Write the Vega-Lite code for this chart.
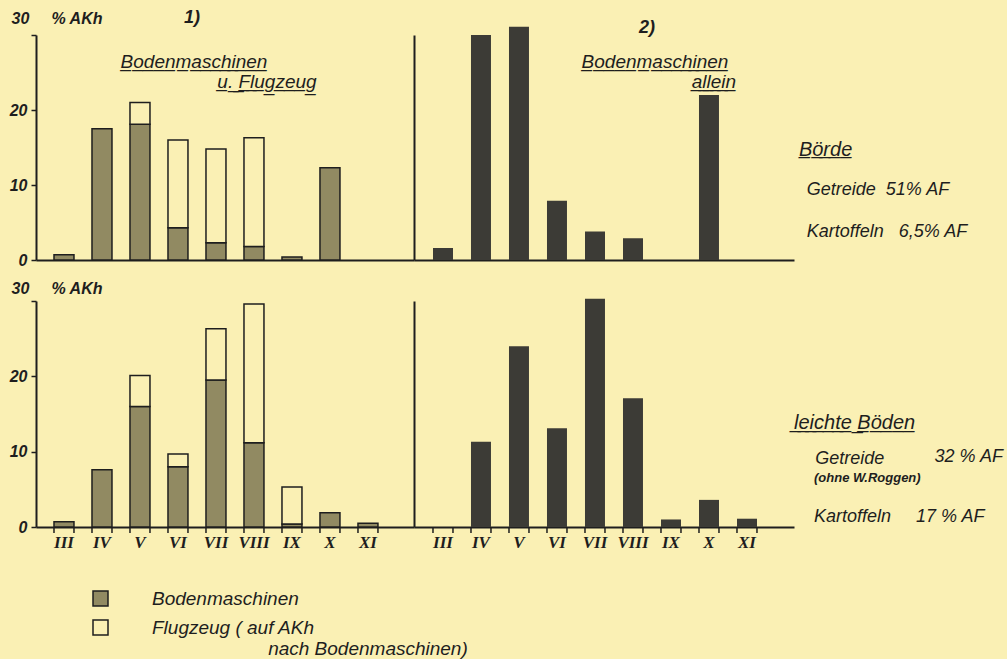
{
  "$schema": "https://vega.github.io/schema/vega-lite/v6.json",
  "background": "#faf0b4",
  "padding": {"left": 9, "top": 8, "right": 0, "bottom": 0},
  "config": {
    "view": {"stroke": null},
    "font": "Liberation Sans",
    "axis": {"domainColor": "#1e1e1e", "domainWidth": 2, "tickColor": "#1e1e1e", "labelColor": "#1e1e1e", "titleColor": "#1e1e1e", "grid": false},
    "text": {"font": "Liberation Sans", "fontStyle": "italic", "color": "#1e1e1e"}
  },
  "datasets": {
    "left": [
      {"region": "Börde", "month": "III", "part": "Bodenmaschinen", "value": 0.7},
      {"region": "Börde", "month": "IV", "part": "Bodenmaschinen", "value": 17.5},
      {"region": "Börde", "month": "V", "part": "Bodenmaschinen", "value": 18.1},
      {"region": "Börde", "month": "V", "part": "Flugzeug", "value": 2.9},
      {"region": "Börde", "month": "VI", "part": "Bodenmaschinen", "value": 4.3},
      {"region": "Börde", "month": "VI", "part": "Flugzeug", "value": 11.7},
      {"region": "Börde", "month": "VII", "part": "Bodenmaschinen", "value": 2.3},
      {"region": "Börde", "month": "VII", "part": "Flugzeug", "value": 12.5},
      {"region": "Börde", "month": "VIII", "part": "Bodenmaschinen", "value": 1.8},
      {"region": "Börde", "month": "VIII", "part": "Flugzeug", "value": 14.5},
      {"region": "Börde", "month": "IX", "part": "Bodenmaschinen", "value": 0.4},
      {"region": "Börde", "month": "X", "part": "Bodenmaschinen", "value": 12.3},
      {"region": "leichte Böden", "month": "III", "part": "Bodenmaschinen", "value": 0.7},
      {"region": "leichte Böden", "month": "IV", "part": "Bodenmaschinen", "value": 7.6},
      {"region": "leichte Böden", "month": "V", "part": "Bodenmaschinen", "value": 16.0},
      {"region": "leichte Böden", "month": "V", "part": "Flugzeug", "value": 4.1},
      {"region": "leichte Böden", "month": "VI", "part": "Bodenmaschinen", "value": 8.0},
      {"region": "leichte Böden", "month": "VI", "part": "Flugzeug", "value": 1.7},
      {"region": "leichte Böden", "month": "VII", "part": "Bodenmaschinen", "value": 19.5},
      {"region": "leichte Böden", "month": "VII", "part": "Flugzeug", "value": 6.8},
      {"region": "leichte Böden", "month": "VIII", "part": "Bodenmaschinen", "value": 11.2},
      {"region": "leichte Böden", "month": "VIII", "part": "Flugzeug", "value": 18.4},
      {"region": "leichte Böden", "month": "IX", "part": "Bodenmaschinen", "value": 0.4},
      {"region": "leichte Böden", "month": "IX", "part": "Flugzeug", "value": 4.9},
      {"region": "leichte Böden", "month": "X", "part": "Bodenmaschinen", "value": 1.9},
      {"region": "leichte Böden", "month": "XI", "part": "Bodenmaschinen", "value": 0.5}
    ],
    "right": [
      {"region": "Börde", "month": "III", "value": 1.6},
      {"region": "Börde", "month": "IV", "value": 30.0},
      {"region": "Börde", "month": "V", "value": 31.1},
      {"region": "Börde", "month": "VI", "value": 7.9},
      {"region": "Börde", "month": "VII", "value": 3.8},
      {"region": "Börde", "month": "VIII", "value": 2.9},
      {"region": "Börde", "month": "X", "value": 22.0},
      {"region": "leichte Böden", "month": "IV", "value": 11.3},
      {"region": "leichte Böden", "month": "V", "value": 24.0},
      {"region": "leichte Böden", "month": "VI", "value": 13.1},
      {"region": "leichte Böden", "month": "VII", "value": 30.3},
      {"region": "leichte Böden", "month": "VIII", "value": 17.1},
      {"region": "leichte Böden", "month": "IX", "value": 1.0},
      {"region": "leichte Böden", "month": "X", "value": 3.6},
      {"region": "leichte Böden", "month": "XI", "value": 1.1}
    ],
    "months": [
      {"month": "III"}, {"month": "IV"}, {"month": "V"}, {"month": "VI"}, {"month": "VII"}, {"month": "VIII"}, {"month": "IX"}, {"month": "X"}, {"month": "XI"}
    ],
    "one": [{}]
  },
  "resolve": {"scale": {"x": "independent", "y": "independent"}},
  "spacing": 12,
  "vconcat": [
    {
      "spacing": 0,
      "resolve": {"scale": {"x": "independent", "y": "independent"}},
      "hconcat": [
        {
          "width": 378, "height": 225,
          "layer": [
            {
              "data": {"name": "left"},
              "transform": [{"filter": "datum.region === 'Börde'"}],
              "mark": {"type": "bar", "stroke": "#1e1e1e", "strokeWidth": 1.5},
              "encoding": {
                "x": {"field": "month", "type": "nominal", "scale": {"domain": ["III", "IV", "V", "VI", "VII", "VIII", "IX", "X", "XI"], "paddingInner": 0.474, "paddingOuter": 0.711, "align": 0.333}, "axis": {"labels": false, "ticks": false, "title": null}},
                "y": {"field": "value", "type": "quantitative", "stack": "zero", "scale": {"domain": [0, 30], "nice": false},
                  "axis": {"values": [0, 5, 10, 15, 20, 25, 30], "labelExpr": "datum.value % 10 === 0 && datum.value < 30 ? datum.label : ''", "tickSize": 5, "tickWidth": 1.5, "labelFontSize": 16, "labelFontStyle": "italic", "labelFontWeight": "bold", "labelPadding": 4, "title": "30\u00a0\u00a0\u00a0\u00a0\u00a0% AKh", "titleAngle": 0, "titleAlign": "left", "titleBaseline": "middle", "titleX": -25, "titleY": -17, "titleFontSize": 16, "titleFontStyle": "italic", "titleFontWeight": "bold"}},
                "fill": {"field": "part", "type": "nominal", "scale": {"domain": ["Bodenmaschinen", "Flugzeug"], "range": ["#918a62", "#faf0b4"]},
                  "legend": {"orient": "none", "legendX": 55, "legendY": 554, "title": null, "symbolType": "square", "symbolSize": 225, "symbolStrokeColor": "#1e1e1e", "symbolStrokeWidth": 1.5, "labelFontSize": 19, "labelFontStyle": "italic", "labelColor": "#1e1e1e", "labelOffset": 42, "rowPadding": 8, "labelLimit": 0, "labelExpr": "datum.label === 'Flugzeug' ? ['Flugzeug ( auf AKh', '\u200b\u00a0\u00a0\u00a0\u00a0\u00a0\u00a0\u00a0\u00a0\u00a0\u00a0\u00a0\u00a0\u00a0\u00a0\u00a0\u00a0\u00a0\u00a0\u00a0\u00a0\u00a0\u00a0nach Bodenmaschinen)'] : datum.label"}},
                "order": {"field": "part", "sort": "ascending"}
              }
            },
            {"data": {"name": "one"}, "mark": {"type": "text", "fontSize": 18, "fontWeight": "bold", "dx": 14}, "encoding": {"x": {"datum": "VI"}, "y": {"datum": 32.3}, "text": {"value": "1)"}}},
            {"data": {"name": "one"}, "mark": {"type": "text", "fontSize": 19, "dx": 16}, "encoding": {"x": {"datum": "VI"}, "y": {"datum": 26.4}, "text": {"value": "B\u0332o\u0332d\u0332e\u0332n\u0332m\u0332a\u0332s\u0332c\u0332h\u0332i\u0332n\u0332e\u0332n\u0332"}}},
            {"data": {"name": "one"}, "mark": {"type": "text", "fontSize": 19, "dx": 13}, "encoding": {"x": {"datum": "VIII"}, "y": {"datum": 23.7}, "text": {"value": "u\u0332.\u0332 \u0332F\u0332l\u0332u\u0332g\u0332z\u0332e\u0332u\u0332g\u0332"}}}
          ]
        },
        {
          "width": 380, "height": 225,
          "layer": [
            {
              "data": {"name": "right"},
              "transform": [{"filter": "datum.region === 'Börde'"}],
              "mark": {"type": "bar", "fill": "#3c3b36"},
              "encoding": {
                "x": {"field": "month", "type": "nominal", "scale": {"domain": ["III", "IV", "V", "VI", "VII", "VIII", "IX", "X", "XI"], "paddingInner": 0.474, "paddingOuter": 0.737, "align": 0.339}, "axis": {"labels": false, "ticks": false, "title": null}},
                "y": {"field": "value", "type": "quantitative", "scale": {"domain": [0, 30], "nice": false}, "axis": {"labels": false, "ticks": false, "title": null}}
              }
            },
            {"data": {"name": "one"}, "mark": {"type": "text", "fontSize": 18, "fontWeight": "bold", "dx": 14}, "encoding": {"x": {"datum": "VIII"}, "y": {"datum": 31}, "text": {"value": "2)"}}},
            {"data": {"name": "one"}, "mark": {"type": "text", "fontSize": 19, "dx": 22}, "encoding": {"x": {"datum": "VIII"}, "y": {"datum": 26.4}, "text": {"value": "B\u0332o\u0332d\u0332e\u0332n\u0332m\u0332a\u0332s\u0332c\u0332h\u0332i\u0332n\u0332e\u0332n\u0332"}}},
            {"data": {"name": "one"}, "mark": {"type": "text", "fontSize": 19, "dx": 5}, "encoding": {"x": {"datum": "X"}, "y": {"datum": 23.7}, "text": {"value": "a\u0332l\u0332l\u0332e\u0332i\u0332n\u0332"}}}
          ]
        },
        {
          "width": 213, "height": 225,
          "data": {"name": "one"},
          "encoding": {
            "x": {"type": "quantitative", "scale": {"domain": [0, 100]}, "axis": null},
            "y": {"type": "quantitative", "scale": {"domain": [0, 100]}, "axis": null}
          },
          "layer": [
            {"mark": {"type": "text", "align": "left", "fontSize": 20}, "encoding": {"x": {"datum": 2.3}, "y": {"datum": 49}, "text": {"value": "B\u0332ö\u0332r\u0332d\u0332e\u0332"}}},
            {"mark": {"type": "text", "align": "left", "fontSize": 18}, "encoding": {"x": {"datum": 6}, "y": {"datum": 31}, "text": {"value": "Getreide\u00a0 51% AF"}}},
            {"mark": {"type": "text", "align": "left", "fontSize": 18}, "encoding": {"x": {"datum": 6}, "y": {"datum": 12.4}, "text": {"value": "Kartoffeln\u00a0\u00a0 6,5% AF"}}}
          ]
        }
      ]
    },
    {
      "spacing": 0,
      "resolve": {"scale": {"x": "independent", "y": "independent"}},
      "hconcat": [
        {
          "width": 378, "height": 226,
          "layer": [
            {
              "data": {"name": "left"},
              "transform": [{"filter": "datum.region === 'leichte Böden'"}],
              "mark": {"type": "bar", "stroke": "#1e1e1e", "strokeWidth": 1.5},
              "encoding": {
                "x": {"field": "month", "type": "nominal", "scale": {"domain": ["III", "IV", "V", "VI", "VII", "VIII", "IX", "X", "XI"], "paddingInner": 0.474, "paddingOuter": 0.711, "align": 0.333}, "axis": {"title": null, "ticks": false, "labelAngle": 0, "labelFont": "Liberation Serif", "labelFontSize": 17, "labelFontWeight": "bold", "labelFontStyle": "italic", "labelPadding": 7}},
                "y": {"field": "value", "type": "quantitative", "stack": "zero", "scale": {"domain": [0, 30], "nice": false},
                  "axis": {"values": [0, 5, 10, 15, 20, 25, 30], "labelExpr": "datum.value % 10 === 0 && datum.value < 30 ? datum.label : ''", "tickSize": 5, "tickWidth": 1.5, "labelFontSize": 16, "labelFontStyle": "italic", "labelFontWeight": "bold", "labelPadding": 4, "title": "30\u00a0\u00a0\u00a0\u00a0\u00a0% AKh", "titleAngle": 0, "titleAlign": "left", "titleBaseline": "middle", "titleX": -25, "titleY": -13, "titleFontSize": 16, "titleFontStyle": "italic", "titleFontWeight": "bold"}},
                "fill": {"field": "part", "type": "nominal"},
                "order": {"field": "part", "sort": "ascending"}
              }
            },
            {
              "data": {"name": "months"},
              "mark": {"type": "rule", "strokeWidth": 1.5, "color": "#1e1e1e"},
              "encoding": {"x": {"field": "month", "type": "nominal", "bandPosition": 0}, "y": {"datum": 0}, "y2": {"datum": -0.8}}
            },
            {
              "data": {"name": "months"},
              "mark": {"type": "rule", "strokeWidth": 1.5, "color": "#1e1e1e"},
              "encoding": {"x": {"field": "month", "type": "nominal", "bandPosition": 1}, "y": {"datum": 0}, "y2": {"datum": -0.8}}
            }
          ]
        },
        {
          "width": 380, "height": 226,
          "layer": [
            {
              "data": {"name": "right"},
              "transform": [{"filter": "datum.region === 'leichte Böden'"}],
              "mark": {"type": "bar", "fill": "#3c3b36"},
              "encoding": {
                "x": {"field": "month", "type": "nominal", "scale": {"domain": ["III", "IV", "V", "VI", "VII", "VIII", "IX", "X", "XI"], "paddingInner": 0.474, "paddingOuter": 0.737, "align": 0.339}, "axis": {"title": null, "ticks": false, "labelAngle": 0, "labelFont": "Liberation Serif", "labelFontSize": 17, "labelFontWeight": "bold", "labelFontStyle": "italic", "labelPadding": 7}},
                "y": {"field": "value", "type": "quantitative", "scale": {"domain": [0, 30], "nice": false}, "axis": {"labels": false, "ticks": false, "title": null}}
              }
            },
            {
              "data": {"name": "months"},
              "mark": {"type": "rule", "strokeWidth": 1.5, "color": "#1e1e1e"},
              "encoding": {"x": {"field": "month", "type": "nominal", "bandPosition": 0}, "y": {"datum": 0}, "y2": {"datum": -0.8}}
            },
            {
              "data": {"name": "months"},
              "mark": {"type": "rule", "strokeWidth": 1.5, "color": "#1e1e1e"},
              "encoding": {"x": {"field": "month", "type": "nominal", "bandPosition": 1}, "y": {"datum": 0}, "y2": {"datum": -0.8}}
            }
          ]
        },
        {
          "width": 213, "height": 226,
          "data": {"name": "one"},
          "encoding": {
            "x": {"type": "quantitative", "scale": {"domain": [0, 100]}, "axis": null},
            "y": {"type": "quantitative", "scale": {"domain": [0, 100]}, "axis": null}
          },
          "layer": [
            {"mark": {"type": "text", "align": "left", "fontSize": 20}, "encoding": {"x": {"datum": 0}, "y": {"datum": 46}, "text": {"value": "l\u0332e\u0332i\u0332c\u0332h\u0332t\u0332e\u0332 \u0332B\u0332ö\u0332d\u0332e\u0332n\u0332"}}},
            {"mark": {"type": "text", "align": "left", "fontSize": 18}, "encoding": {"x": {"datum": 10}, "y": {"datum": 30}, "text": {"value": "Getreide"}}},
            {"mark": {"type": "text", "align": "left", "fontSize": 18}, "encoding": {"x": {"datum": 66}, "y": {"datum": 31}, "text": {"value": "32 % AF"}}},
            {"mark": {"type": "text", "align": "left", "fontSize": 13, "fontWeight": "bold"}, "encoding": {"x": {"datum": 9.4}, "y": {"datum": 21.7}, "text": {"value": "(ohne W.Roggen)"}}},
            {"mark": {"type": "text", "align": "left", "fontSize": 18}, "encoding": {"x": {"datum": 9.4}, "y": {"datum": 4.4}, "text": {"value": "Kartoffeln\u00a0\u00a0\u00a0\u00a0 17 % AF"}}}
          ]
        }
      ]
    }
  ]
}
